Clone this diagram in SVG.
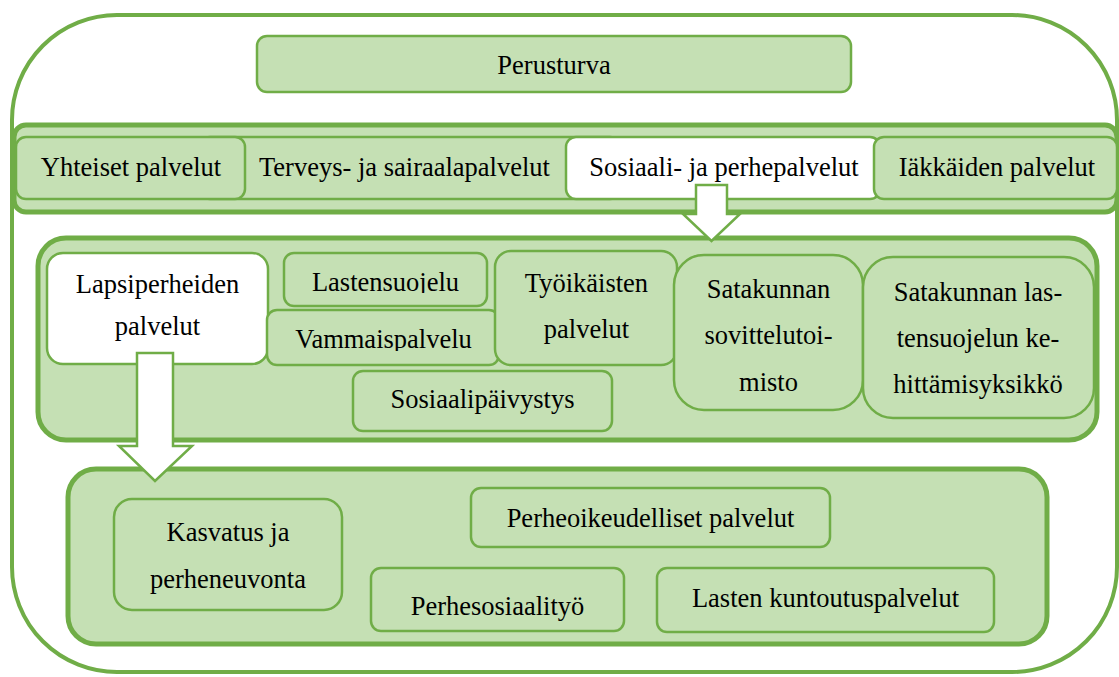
<svg xmlns="http://www.w3.org/2000/svg" width="1119" height="677" viewBox="0 0 1119 677">
<defs>
<style>
.band{fill:#C5E0B4;stroke:#70AD47;stroke-width:5}
.box{fill:#C5E0B4;stroke:#70AD47;stroke-width:2.5}
.wbox{fill:#FFFFFF;stroke:#70AD47;stroke-width:2.5}
.arrow{fill:#FFFFFF;stroke:#70AD47;stroke-width:2.5;stroke-linejoin:miter}
.t{font-family:'Liberation Serif','Times New Roman',serif;font-size:26.5px;fill:#000;text-anchor:middle}
</style>
<clipPath id="clipLs"><rect x="284" y="253" width="203" height="40"/></clipPath>
<clipPath id="clipVp"><rect x="267" y="310" width="232" height="41"/></clipPath>
</defs>
<rect id="frame" x="12" y="15" width="1105" height="657" rx="105" ry="105" fill="#FFFFFF" stroke="#70AD47" stroke-width="4"/>
<g id="perusturva"><rect class="box" x="257" y="36" width="594" height="56" rx="10"/><text class="t" x="554" y="74">Perusturva</text></g>
<g id="band2"><rect class="band" x="14" y="125" width="1103" height="87" rx="12"/></g>
<g id="terveys"><rect class="box" x="200" y="137" width="420" height="62" rx="10"/><text class="t" x="404.5" y="176">Terveys- ja sairaalapalvelut</text></g>
<g id="yhteiset"><rect class="box" x="16" y="137" width="229" height="62" rx="10"/><text class="t" x="131" y="176">Yhteiset palvelut</text></g>
<g id="sosiaali"><rect class="wbox" x="566" y="137" width="314" height="62" rx="10"/><text class="t" x="724" y="176">Sosiaali- ja perhepalvelut</text></g>
<g id="iakkaiden"><rect class="box" x="874" y="137" width="243" height="62" rx="10"/><text class="t" x="997" y="176">Iäkkäiden palvelut</text></g>
<g id="band3"><rect class="band" x="38" y="238" width="1059" height="202" rx="28"/></g>
<g id="lapsiperheiden"><rect class="wbox" x="47" y="253" width="221" height="111" rx="16"/><text class="t" x="157.5" y="293">Lapsiperheiden</text><text class="t" x="157.5" y="335">palvelut</text></g>
<g id="lastensuojelu"><rect class="box" x="284" y="253" width="203" height="53" rx="10"/><text class="t" x="385.5" y="291" clip-path="url(#clipLs)">Lastensuojelu</text></g>
<g id="vammaispalvelu"><rect class="box" x="267" y="310" width="232" height="55" rx="10"/><text class="t" x="383.5" y="348" clip-path="url(#clipVp)">Vammaispalvelu</text></g>
<g id="tyoikaisten"><rect class="box" x="495" y="251" width="182" height="114" rx="16"/><text class="t" x="586.5" y="292">Työikäisten</text><text class="t" x="586.5" y="338">palvelut</text></g>
<g id="sosiaalipaivystys"><rect class="box" x="353" y="371" width="259" height="60" rx="10"/><text class="t" x="482.5" y="408">Sosiaalipäivystys</text></g>
<g id="sovittelu"><rect class="box" x="674" y="255" width="189" height="155" rx="30"/><text class="t" x="768.5" y="298">Satakunnan</text><text class="t" x="768.5" y="344">sovittelutoi-</text><text class="t" x="768.5" y="391">misto</text></g>
<g id="kehittamis"><rect class="box" x="863" y="257" width="231" height="161" rx="30"/><text class="t" x="978" y="301">Satakunnan las-</text><text class="t" x="978" y="347">tensuojelun ke-</text><text class="t" x="978" y="393">hittämisyksikkö</text></g>
<g id="band4"><rect class="band" x="68" y="469" width="979" height="175" rx="28"/></g>
<g id="kasvatus"><rect class="box" x="114" y="499" width="228" height="111" rx="18"/><text class="t" x="228" y="541">Kasvatus ja</text><text class="t" x="228" y="588">perheneuvonta</text></g>
<g id="perheoikeudelliset"><rect class="box" x="471" y="488" width="359" height="59" rx="10"/><text class="t" x="650.5" y="527">Perheoikeudelliset palvelut</text></g>
<g id="perhesosiaalityo"><rect class="box" x="371" y="568" width="253" height="63" rx="10"/><text class="t" x="497.5" y="615">Perhesosiaalityö</text></g>
<g id="kuntoutus"><rect class="box" x="657" y="568" width="337" height="64" rx="10"/><text class="t" x="825.5" y="607">Lasten kuntoutuspalvelut</text></g>
<g id="connectors">
<polygon class="arrow" points="696,185 727,185 727,214 740,214 711.5,241 683,214 696,214"/>
<polygon class="arrow" points="137,353 173,353 173,446 192,446 155,481 119,446 137,446"/>
</g>
</svg>
